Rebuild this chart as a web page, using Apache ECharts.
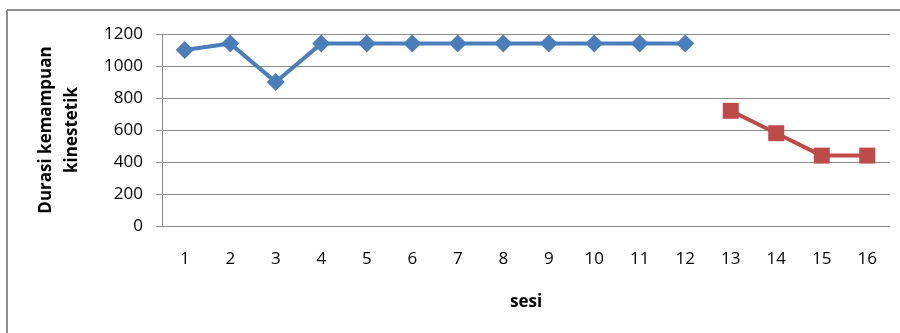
<!DOCTYPE html>
<html>
<head>
<meta charset="utf-8">
<script src="https://cdn.jsdelivr.net/npm/echarts@6/dist/echarts.min.js"></script>
<style>
  html, body { margin: 0; padding: 0; background: #fff; }
  #chart { width: 900px; height: 333px; }
</style>
</head>
<body>
<div id="chart"></div>
<script>
// Session numbers on the x axis
const sessions = ['1','2','3','4','5','6','7','8','9','10','11','12','13','14','15','16'];
// Phase one (sessions 1-12) and phase two (sessions 13-16)
const phaseA = [1100, 1140, 900, 1140, 1140, 1140, 1140, 1140, 1140, 1140, 1140, 1140, null, null, null, null];
const phaseB = [null, null, null, null, null, null, null, null, null, null, null, null, 720, 580, 440, 440];
// Y axis range
const yMin = 0, yMax = 1200, yStep = 200;

const font = '"Open Sans", Lato, sans-serif';
const chart = echarts.init(document.getElementById('chart'), null, { renderer: 'canvas' });

chart.setOption({
  animation: false,
  backgroundColor: '#ffffff',
  graphic: [
    { type: 'line', shape: { x1: 7, y1: 10, x2: 900, y2: 10 }, style: { stroke: '#8c8c8c', lineWidth: 2 } },
    { type: 'line', shape: { x1: 7, y1: 10, x2: 7, y2: 333 }, style: { stroke: '#8c8c8c', lineWidth: 2 } }
  ],
  grid: { left: 162, right: 10, top: 34, bottom: 107, containLabel: false },
  xAxis: {
    type: 'category',
    data: sessions,
    boundaryGap: true,
    name: 'sesi',
    nameLocation: 'middle',
    nameGap: 68,
    nameTextStyle: { fontFamily: font, fontSize: 17, fontWeight: 'bold', color: '#000' },
    axisLine: { lineStyle: { color: '#8c8c8c', width: 1 } },
    axisTick: { show: false },
    axisLabel: { fontFamily: font, fontSize: 17, color: '#000', margin: 25 },
    splitLine: { show: false }
  },
  yAxis: {
    type: 'value',
    min: yMin, max: yMax, interval: yStep,
    name: 'Durasi kemampuan\nkinestetik',
    nameLocation: 'middle',
    nameGap: 77,
    nameRotate: 90,
    nameTextStyle: { fontFamily: font, fontSize: 17, fontWeight: 'bold', color: '#000', lineHeight: 26 },
    axisLine: { show: true, lineStyle: { color: '#8c8c8c', width: 1 } },
    axisTick: { show: true, length: 6, lineStyle: { color: '#8c8c8c' } },
    axisLabel: { fontFamily: font, fontSize: 17, color: '#000', margin: 19, formatter: v => String(v) },
    splitLine: { show: true, lineStyle: { color: '#8c8c8c', width: 1 } }
  },
  series: [
    {
      type: 'line',
      data: phaseA,
      symbol: 'diamond',
      symbolSize: 18,
      lineStyle: { color: '#4a7ebb', width: 4 },
      itemStyle: { color: '#4a7ebb' },
      connectNulls: false
    },
    {
      type: 'line',
      data: phaseB,
      symbol: 'rect',
      symbolSize: 16,
      lineStyle: { color: '#be4b48', width: 4 },
      itemStyle: { color: '#be4b48' },
      connectNulls: false
    }
  ]
});
</script>
</body>
</html>
